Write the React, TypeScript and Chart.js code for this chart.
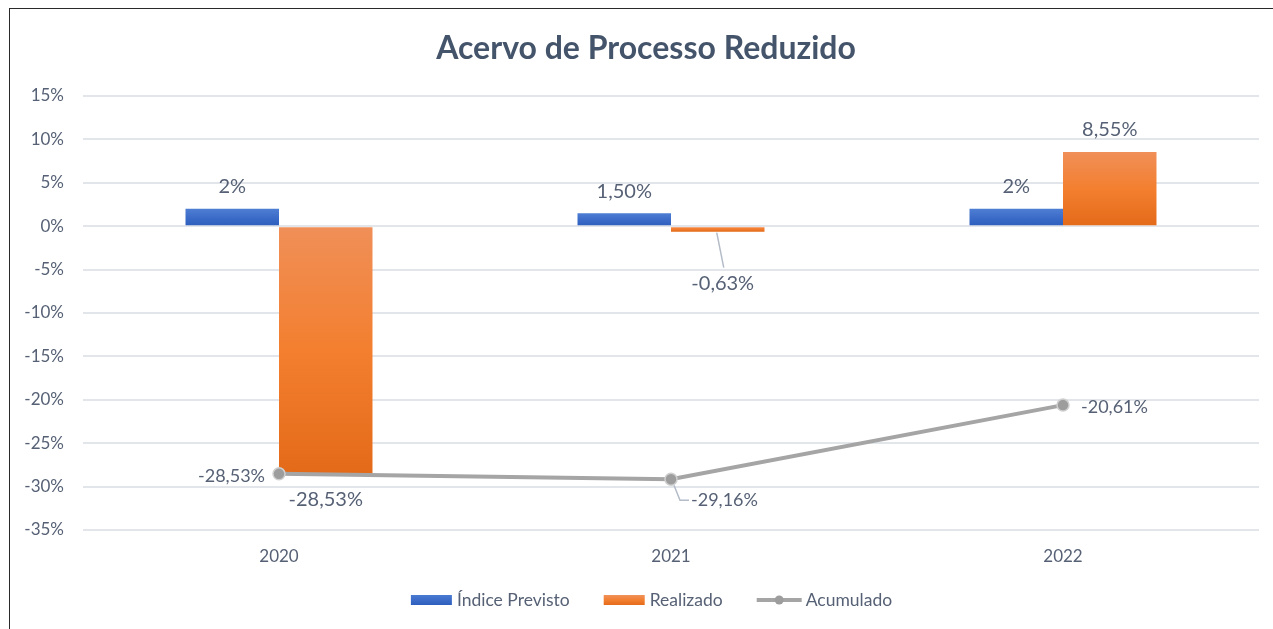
import React, { useEffect, useRef } from 'react';
import { Chart, registerables } from 'chart.js';

Chart.register(...registerables);

// ---- data ----
const categories = ['2020', '2021', '2022'];
const indicePrevisto = [2, 1.5, 2];
const realizado = [-28.53, -0.63, 8.55];
const acumulado = [-28.53, -29.16, -20.61];
const indiceLabels = ['2%', '1,50%', '2%'];
const realizadoLabels = ['-28,53%', '-0,63%', '8,55%'];
const acumuladoLabels = ['-28,53%', '-29,16%', '-20,61%'];
const seriesNames = ['Índice Previsto', 'Realizado', 'Acumulado'];
const chartTitle = 'Acervo de Processo Reduzido';
const yMin = -35;
const yMax = 15;
const yStep = 5;

const FONT = 'Lato, "Open Sans", sans-serif';
const TEXT = '#566175';
const TITLE = '#44546A';
const LINE_GRAY = '#A5A5A5';

function vertGrad(ctx: any, top: number, bottom: number, c1: string, c2: string, c3: string) {
  const g = ctx.createLinearGradient(0, top, 0, bottom);
  g.addColorStop(0, c1);
  g.addColorStop(0.5, c2);
  g.addColorStop(1, c3);
  return g;
}

function barFill(colors: [string, string, string], fallback: string) {
  return (c: any) => {
    const chart = c.chart;
    const { chartArea, scales } = chart;
    if (!chartArea || !scales.y) return fallback;
    const v = c.raw as number;
    const top = scales.y.getPixelForValue(Math.max(v, 0));
    const bottom = scales.y.getPixelForValue(Math.min(v, 0));
    if (!isFinite(top) || !isFinite(bottom) || Math.abs(bottom - top) < 1) return fallback;
    return vertGrad(chart.ctx, top, bottom, colors[0], colors[1], colors[2]);
  };
}

const labelsPlugin = {
  id: 'customLabels',
  afterDatasetsDraw(chart: any) {
    const ctx = chart.ctx;
    ctx.save();
    // bar labels
    ctx.font = `20px ${FONT}`;
    ctx.fillStyle = TEXT;
    ctx.textAlign = 'center';
    ctx.textBaseline = 'middle';
    const m0 = chart.getDatasetMeta(0);
    m0.data.forEach((el: any, i: number) => {
      ctx.fillText(indiceLabels[i], el.x, el.y - 22);
    });
    const m1 = chart.getDatasetMeta(1);
    m1.data.forEach((el: any, i: number) => {
      const v = realizado[i];
      if (v >= 0) {
        ctx.fillText(realizadoLabels[i], el.x, el.y - 22);
      } else if (v > -2) {
        // moved label with leader line
        ctx.strokeStyle = '#B4BCC8';
        ctx.lineWidth = 1.5;
        ctx.beginPath();
        ctx.moveTo(el.x - 1, el.y + 1);
        ctx.lineTo(el.x + 6, el.y + 36);
        ctx.stroke();
        ctx.fillText(realizadoLabels[i], el.x + 5, el.y + 52);
      } else {
        ctx.fillText(realizadoLabels[i], el.x, el.y + 26);
      }
    });
    // line labels
    ctx.font = `18px ${FONT}`;
    const m2 = chart.getDatasetMeta(2);
    m2.data.forEach((el: any, i: number) => {
      if (i === 0) {
        ctx.textAlign = 'right';
        ctx.fillText(acumuladoLabels[i], el.x - 14, el.y + 2);
      } else if (i === 1) {
        ctx.strokeStyle = '#B4BCC8';
        ctx.lineWidth = 1.5;
        ctx.beginPath();
        ctx.moveTo(el.x + 3, el.y + 6);
        ctx.lineTo(el.x + 9, el.y + 21);
        ctx.lineTo(el.x + 18, el.y + 21);
        ctx.stroke();
        ctx.textAlign = 'left';
        ctx.fillText(acumuladoLabels[i], el.x + 20, el.y + 21);
      } else {
        ctx.textAlign = 'left';
        ctx.fillText(acumuladoLabels[i], el.x + 18, el.y + 2);
      }
    });
    ctx.restore();
  },
  afterDraw(chart: any) {
    const ctx = chart.ctx;
    ctx.save();
    // title
    ctx.font = `bold 32px ${FONT}`;
    ctx.fillStyle = TITLE;
    ctx.textAlign = 'center';
    ctx.textBaseline = 'middle';
    ctx.fillText(chartTitle, 636, 40);

    // legend
    ctx.font = `17.5px ${FONT}`;
    const boxW = 41;
    const gapBoxText = 5;
    const itemGap = 34;
    const widths = seriesNames.map((n) => boxW + gapBoxText + ctx.measureText(n).width);
    const total = widths.reduce((a, b) => a + b, 0) + itemGap * (seriesNames.length - 1);
    let x = 640 - total / 2;
    const y = 591;
    seriesNames.forEach((n, i) => {
      if (i === 0) {
        ctx.fillStyle = vertGrad(ctx, y - 5, y + 5, '#4A7BD2', '#3C6CC8', '#2F5FBE');
        ctx.fillRect(x, y - 5, boxW, 10);
      } else if (i === 1) {
        ctx.fillStyle = vertGrad(ctx, y - 5, y + 5, '#F0915B', '#F27F30', '#E46B1A');
        ctx.fillRect(x, y - 5, boxW, 10);
      } else {
        ctx.strokeStyle = LINE_GRAY;
        ctx.lineWidth = 4;
        ctx.beginPath();
        ctx.moveTo(x, y);
        ctx.lineTo(x + boxW + 4, y);
        ctx.stroke();
        ctx.fillStyle = '#9D9D9D';
        ctx.beginPath();
        ctx.arc(x + (boxW + 4) / 2, y, 4.5, 0, Math.PI * 2);
        ctx.fill();
      }
      ctx.fillStyle = TEXT;
      ctx.textAlign = 'left';
      ctx.textBaseline = 'middle';
      ctx.fillText(n, x + boxW + gapBoxText + (i === 2 ? 3 : 0), y);
      x += widths[i] + itemGap;
    });
    ctx.restore();
  },
};

export default function App() {
  const canvasRef = useRef<HTMLCanvasElement | null>(null);

  useEffect(() => {
    if (!canvasRef.current) return;
    const chart = new Chart(canvasRef.current, {
      type: 'bar',
      data: {
        labels: categories,
        datasets: [
          {
            type: 'bar',
            label: seriesNames[0],
            data: indicePrevisto,
            backgroundColor: barFill(['#4E7ED3', '#3C6CC8', '#2E5EBD'], '#3C6CC8'),
            categoryPercentage: 0.477,
            barPercentage: 1,
            order: 1,
          },
          {
            type: 'bar',
            label: seriesNames[1],
            data: realizado,
            backgroundColor: barFill(['#F08F58', '#F37F2F', '#E36A19'], '#F27F30'),
            categoryPercentage: 0.477,
            barPercentage: 1,
            order: 1,
          },
          {
            type: 'line',
            label: seriesNames[2],
            data: acumulado,
            borderColor: LINE_GRAY,
            borderWidth: 4,
            pointRadius: 6,
            pointBackgroundColor: '#9D9D9D',
            pointBorderColor: '#CFCFCF',
            pointBorderWidth: 1.5,
            tension: 0,
            order: 0,
          } as any,
        ],
      },
      options: {
        animation: false,
        responsive: true,
        maintainAspectRatio: false,
        layout: { padding: { left: 0, right: 14, top: 87, bottom: 0 } },
        plugins: {
          legend: { display: false },
          title: { display: false },
          tooltip: { enabled: false },
        },
        scales: {
          x: {
            grid: { display: false, drawTicks: false },
            border: { display: false },
            ticks: {
              color: TEXT,
              font: { family: FONT, size: 17 },
              padding: 16,
            },
            afterFit: (s: any) => {
              s.height = 99;
            },
          },
          y: {
            min: yMin,
            max: yMax,
            grid: { color: '#E2E5EA', lineWidth: 2, drawTicks: false },
            border: { display: false },
            ticks: {
              stepSize: yStep,
              color: TEXT,
              font: { family: FONT, size: 17 },
              padding: 19,
              callback: (v: any) => `${v}%`,
            },
            afterFit: (s: any) => {
              s.width = 73;
            },
          },
        },
      },
      plugins: [labelsPlugin],
    });
    return () => chart.destroy();
  }, []);

  return (
    <div
      style={{
        position: 'fixed',
        left: 0,
        top: 0,
        width: 1273,
        height: 629,
        overflow: 'hidden',
        background: '#fff',
      }}
    >
      <div
        style={{
          position: 'absolute',
          left: 9,
          top: 8,
          width: 1290,
          height: 650,
          borderLeft: '1px solid #2a2a2a',
          borderTop: '1px solid #2a2a2a',
        }}
      >
        <div style={{ position: 'relative', width: 1263, height: 620 }}>
          <canvas ref={canvasRef} />
        </div>
      </div>
    </div>
  );
}
